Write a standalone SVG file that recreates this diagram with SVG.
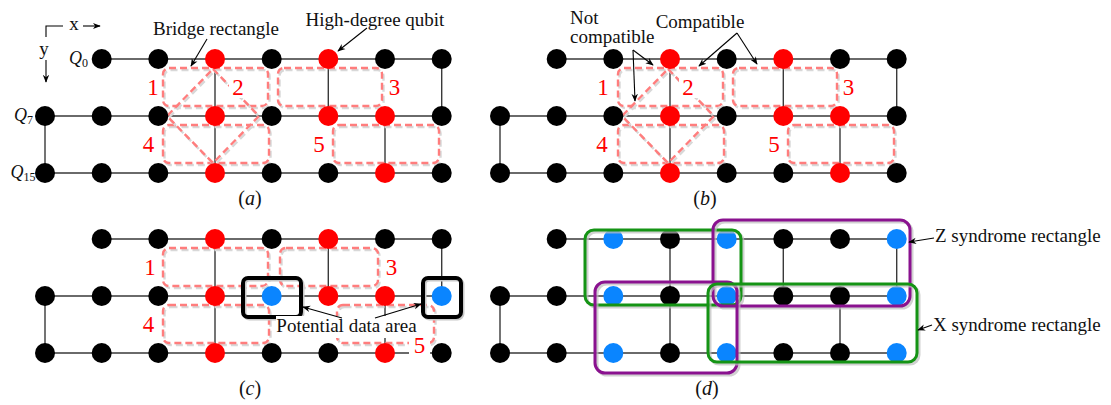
<svg xmlns="http://www.w3.org/2000/svg" width="1111" height="405" viewBox="0 0 1111 405">
<defs>
<style>
.e{stroke:#3a3a3a;stroke-width:1.4;fill:none}
.k{fill:#000}
.r{fill:#ff0000}
.b{fill:#0a85ff}
.dr{fill:none;stroke:#ff7d7d;stroke-width:2.4;stroke-dasharray:7 4;stroke-linejoin:round}
.ds{fill:none;stroke:#d8d8d8;stroke-width:2.4;stroke-dasharray:7 4;stroke-linejoin:round}
.bx{fill:none;stroke:#000;stroke-width:4}
.bxs{fill:none;stroke:#c8c8c8;stroke-width:4}
.gr{fill:none;stroke:#159415;stroke-width:3}
.pu{fill:none;stroke:#8a128f;stroke-width:3}
.sh{fill:none;stroke:#bdbdbd;stroke-width:3;opacity:.7}
.ar{stroke:#000;stroke-width:1.1;fill:none;marker-end:url(#ah)}
.t{font-family:"Liberation Serif",serif;font-size:19px;fill:#111}
.q{font-family:"Liberation Serif",serif;font-size:18px;font-style:italic;fill:#111;text-anchor:end}
.n{font-family:"Liberation Serif",serif;font-size:23px;fill:#ff0000;text-anchor:middle}
.c{font-family:"Liberation Serif",serif;font-size:20px;fill:#111;text-anchor:middle}
</style>
<marker id="ah" viewBox="0 0 10 10" refX="9" refY="5" markerWidth="8" markerHeight="8" orient="auto" markerUnits="userSpaceOnUse"><path d="M0,1 L10,5 L0,9 L3,5 z" fill="#000"/></marker>
</defs>
<rect width="1111" height="405" fill="#fff"/>

<!-- connectors: lattice edges -->
<g id="connectors">
<g id="edges-a"><path class="e" d="M101.7,59H441.7M45,116H441.7M45,173H441.7M45,116V173M215,59V173M328.3,59V116M385,116V173M441.7,59V116"/></g>
<g id="edges-b" transform="translate(455,0)"><path class="e" d="M101.7,59H441.7M45,116H441.7M45,173H441.7M45,116V173M215,59V173M328.3,59V116M385,116V173M441.7,59V116"/></g>
<g id="edges-c" transform="translate(0,180)"><path class="e" d="M101.7,59H441.7M45,116H441.7M45,173H441.7M45,116V173M215,59V173M328.3,59V116M385,116V173M441.7,59V116"/></g>
<g id="edges-d" transform="translate(455,180)"><path class="e" d="M101.7,59H441.7M45,116H441.7M45,173H441.7M45,116V173M215,59V173M328.3,59V116M385,116V173M441.7,59V116"/></g>
</g>

<!-- Panel (a) -->
<g id="panel-a">
<g id="a-rects">
<rect class="ds" x="164.5" y="70" width="105" height="38" rx="6"/>
<rect class="dr" x="163" y="68" width="105" height="38" rx="6"/>
<rect class="ds" x="164.5" y="127" width="106" height="38" rx="6"/>
<rect class="dr" x="163" y="125" width="106" height="38" rx="6"/>
<rect class="ds" x="279.5" y="70" width="104" height="38" rx="6"/>
<rect class="dr" x="278" y="68" width="104" height="38" rx="6"/>
<rect class="ds" x="334.5" y="127" width="106" height="38" rx="6"/>
<rect class="dr" x="333" y="125" width="106" height="38" rx="6"/>
<path class="ds" d="M214.5,71 L260.5,118 L214.5,165 L168.5,118 Z"/>
<path class="dr" d="M213,69 L259,116 L213,163 L167,116 Z"/>
</g>
<g id="a-r0c1"><circle class="k" cx="101.7" cy="59" r="10"/></g>
<g id="a-r0c2"><circle class="k" cx="158.3" cy="59" r="10"/></g>
<g id="a-r0c3"><circle class="r" cx="215" cy="59" r="10"/></g>
<g id="a-r0c4"><circle class="k" cx="271.7" cy="59" r="10"/></g>
<g id="a-r0c5"><circle class="r" cx="328.3" cy="59" r="10"/></g>
<g id="a-r0c6"><circle class="k" cx="385" cy="59" r="10"/></g>
<g id="a-r0c7"><circle class="k" cx="441.7" cy="59" r="10"/></g>
<g id="a-r1c0"><circle class="k" cx="45" cy="116" r="10"/></g>
<g id="a-r1c1"><circle class="k" cx="101.7" cy="116" r="10"/></g>
<g id="a-r1c2"><circle class="k" cx="158.3" cy="116" r="10"/></g>
<g id="a-r1c3"><circle class="r" cx="215" cy="116" r="10"/></g>
<g id="a-r1c4"><circle class="k" cx="271.7" cy="116" r="10"/></g>
<g id="a-r1c5"><circle class="r" cx="328.3" cy="116" r="10"/></g>
<g id="a-r1c6"><circle class="r" cx="385" cy="116" r="10"/></g>
<g id="a-r1c7"><circle class="k" cx="441.7" cy="116" r="10"/></g>
<g id="a-r2c0"><circle class="k" cx="45" cy="173" r="10"/></g>
<g id="a-r2c1"><circle class="k" cx="101.7" cy="173" r="10"/></g>
<g id="a-r2c2"><circle class="k" cx="158.3" cy="173" r="10"/></g>
<g id="a-r2c3"><circle class="r" cx="215" cy="173" r="10"/></g>
<g id="a-r2c4"><circle class="k" cx="271.7" cy="173" r="10"/></g>
<g id="a-r2c5"><circle class="k" cx="328.3" cy="173" r="10"/></g>
<g id="a-r2c6"><circle class="r" cx="385" cy="173" r="10"/></g>
<g id="a-r2c7"><circle class="k" cx="441.7" cy="173" r="10"/></g>
<g id="a-labels">
<text class="n" x="153" y="95">1</text>
<rect x="229" y="76" width="19" height="22" fill="#fff"/>
<text class="n" x="238" y="95">2</text>
<text class="n" x="394.5" y="95">3</text>
<text class="n" x="148.5" y="152">4</text>
<text class="n" x="319" y="152">5</text>
<text class="q" x="88" y="64">Q<tspan font-size="12" font-style="normal" dy="3">0</tspan></text>
<text class="q" x="33" y="121">Q<tspan font-size="12" font-style="normal" dy="3">7</tspan></text>
<text class="q" x="35.5" y="178">Q<tspan font-size="12" font-style="normal" dy="3">15</tspan></text>
<text class="t" x="74" y="30" text-anchor="middle">x</text>
<text class="t" x="44" y="55" text-anchor="middle">y</text>
<path d="M63,26H46V37" stroke="#000" stroke-width="1.1" fill="none"/>
<text class="t" x="216" y="35" text-anchor="middle">Bridge rectangle</text>
<text class="t" x="375" y="26" text-anchor="middle">High-degree qubit</text>
<text class="c" x="250" y="205">(<tspan font-style="italic">a</tspan>)</text>
</g>
</g>

<!-- Panel (b) -->
<g id="panel-b" transform="translate(455,0)">
<g id="b-rects">
<rect class="ds" x="164.5" y="70" width="105" height="38" rx="6"/>
<rect class="dr" x="163" y="68" width="105" height="38" rx="6"/>
<rect class="ds" x="164.5" y="127" width="106" height="38" rx="6"/>
<rect class="dr" x="163" y="125" width="106" height="38" rx="6"/>
<rect class="ds" x="279.5" y="70" width="104" height="38" rx="6"/>
<rect class="dr" x="278" y="68" width="104" height="38" rx="6"/>
<rect class="ds" x="334.5" y="127" width="106" height="38" rx="6"/>
<rect class="dr" x="333" y="125" width="106" height="38" rx="6"/>
<path class="ds" d="M214.5,71 L260.5,118 L214.5,165 L168.5,118 Z"/>
<path class="dr" d="M213,69 L259,116 L213,163 L167,116 Z"/>
</g>
<g id="b-r0c1"><circle class="k" cx="101.7" cy="59" r="10"/></g>
<g id="b-r0c2"><circle class="k" cx="158.3" cy="59" r="10"/></g>
<g id="b-r0c3"><circle class="r" cx="215" cy="59" r="10"/></g>
<g id="b-r0c4"><circle class="k" cx="271.7" cy="59" r="10"/></g>
<g id="b-r0c5"><circle class="r" cx="328.3" cy="59" r="10"/></g>
<g id="b-r0c6"><circle class="k" cx="385" cy="59" r="10"/></g>
<g id="b-r0c7"><circle class="k" cx="441.7" cy="59" r="10"/></g>
<g id="b-r1c0"><circle class="k" cx="45" cy="116" r="10"/></g>
<g id="b-r1c1"><circle class="k" cx="101.7" cy="116" r="10"/></g>
<g id="b-r1c2"><circle class="k" cx="158.3" cy="116" r="10"/></g>
<g id="b-r1c3"><circle class="r" cx="215" cy="116" r="10"/></g>
<g id="b-r1c4"><circle class="k" cx="271.7" cy="116" r="10"/></g>
<g id="b-r1c5"><circle class="r" cx="328.3" cy="116" r="10"/></g>
<g id="b-r1c6"><circle class="r" cx="385" cy="116" r="10"/></g>
<g id="b-r1c7"><circle class="k" cx="441.7" cy="116" r="10"/></g>
<g id="b-r2c0"><circle class="k" cx="45" cy="173" r="10"/></g>
<g id="b-r2c1"><circle class="k" cx="101.7" cy="173" r="10"/></g>
<g id="b-r2c2"><circle class="k" cx="158.3" cy="173" r="10"/></g>
<g id="b-r2c3"><circle class="r" cx="215" cy="173" r="10"/></g>
<g id="b-r2c4"><circle class="k" cx="271.7" cy="173" r="10"/></g>
<g id="b-r2c5"><circle class="k" cx="328.3" cy="173" r="10"/></g>
<g id="b-r2c6"><circle class="r" cx="385" cy="173" r="10"/></g>
<g id="b-r2c7"><circle class="k" cx="441.7" cy="173" r="10"/></g>
<g id="b-labels">
<text class="n" x="148" y="95">1</text>
<rect x="224" y="76" width="19" height="22" fill="#fff"/>
<text class="n" x="233" y="95">2</text>
<text class="n" x="393.5" y="95">3</text>
<text class="n" x="147" y="152">4</text>
<text class="n" x="319" y="152">5</text>
<text class="t" x="115" y="24">Not</text>
<text class="t" x="115" y="43">compatible</text>
<text class="t" x="245" y="28" text-anchor="middle">Compatible</text>
<text class="c" x="250" y="205">(<tspan font-style="italic">b</tspan>)</text>
</g>
</g>

<!-- Panel (c) -->
<g id="panel-c" transform="translate(0,180)">
<g id="c-rects">
<rect class="ds" x="164.5" y="70" width="105" height="38" rx="6"/>
<rect class="dr" x="163" y="68" width="105" height="38" rx="6"/>
<rect class="ds" x="164.5" y="127" width="106" height="38" rx="6"/>
<rect class="dr" x="163" y="125" width="106" height="38" rx="6"/>
<rect class="ds" x="281.5" y="70" width="98" height="38" rx="6"/>
<rect class="dr" x="280" y="68" width="98" height="38" rx="6"/>
<rect class="ds" x="338.5" y="127" width="97" height="38" rx="6"/>
<rect class="dr" x="337" y="125" width="97" height="38" rx="6"/>
</g>
<g id="c-r0c1"><circle class="k" cx="101.7" cy="59" r="10"/></g>
<g id="c-r0c2"><circle class="k" cx="158.3" cy="59" r="10"/></g>
<g id="c-r0c3"><circle class="r" cx="215" cy="59" r="10"/></g>
<g id="c-r0c4"><circle class="k" cx="271.7" cy="59" r="10"/></g>
<g id="c-r0c5"><circle class="r" cx="328.3" cy="59" r="10"/></g>
<g id="c-r0c6"><circle class="k" cx="385" cy="59" r="10"/></g>
<g id="c-r0c7"><circle class="k" cx="441.7" cy="59" r="10"/></g>
<g id="c-r1c0"><circle class="k" cx="45" cy="116" r="10"/></g>
<g id="c-r1c1"><circle class="k" cx="101.7" cy="116" r="10"/></g>
<g id="c-r1c2"><circle class="k" cx="158.3" cy="116" r="10"/></g>
<g id="c-r1c3"><circle class="r" cx="215" cy="116" r="10"/></g>
<g id="c-r1c4"><circle class="b" cx="271.7" cy="116" r="10"/></g>
<g id="c-r1c5"><circle class="r" cx="328.3" cy="116" r="10"/></g>
<g id="c-r1c6"><circle class="r" cx="385" cy="116" r="10"/></g>
<g id="c-r1c7"><circle class="b" cx="441.7" cy="116" r="10"/></g>
<g id="c-r2c0"><circle class="k" cx="45" cy="173" r="10"/></g>
<g id="c-r2c1"><circle class="k" cx="101.7" cy="173" r="10"/></g>
<g id="c-r2c2"><circle class="k" cx="158.3" cy="173" r="10"/></g>
<g id="c-r2c3"><circle class="r" cx="215" cy="173" r="10"/></g>
<g id="c-r2c4"><circle class="k" cx="271.7" cy="173" r="10"/></g>
<g id="c-r2c5"><circle class="k" cx="328.3" cy="173" r="10"/></g>
<g id="c-r2c6"><circle class="r" cx="385" cy="173" r="10"/></g>
<g id="c-r2c7"><circle class="k" cx="441.7" cy="173" r="10"/></g>
<g id="c-box1"><rect class="bxs" x="244.5" y="99.5" width="58" height="39" rx="5"/><rect class="bx" x="243" y="98" width="58" height="39" rx="5"/></g>
<g id="c-box2"><rect class="bxs" x="424.5" y="99.5" width="38" height="39" rx="5"/><rect class="bx" x="423" y="98" width="38" height="39" rx="5"/></g>
<g id="c-labels">
<text class="n" x="150" y="95">1</text>
<text class="n" x="391.5" y="95">3</text>
<text class="n" x="148.5" y="152">4</text>
<rect x="409" y="156" width="21" height="22" fill="#fff"/>
<text class="n" x="419.5" y="173">5</text>
<rect x="276" y="136" width="142" height="22" fill="#fff"/>
<text class="t" x="346.5" y="152" text-anchor="middle">Potential data area</text>
<text class="c" x="250" y="215">(<tspan font-style="italic">c</tspan>)</text>
</g>
</g>

<!-- Panel (d) -->
<g id="panel-d" transform="translate(455,180)">
<g id="d-r0c1"><circle class="k" cx="101.7" cy="59" r="10"/></g>
<g id="d-r0c2"><circle class="b" cx="158.3" cy="59" r="10"/></g>
<g id="d-r0c3"><circle class="k" cx="215" cy="59" r="10"/></g>
<g id="d-r0c4"><circle class="b" cx="271.7" cy="59" r="10"/></g>
<g id="d-r0c5"><circle class="k" cx="328.3" cy="59" r="10"/></g>
<g id="d-r0c6"><circle class="k" cx="385" cy="59" r="10"/></g>
<g id="d-r0c7"><circle class="b" cx="441.7" cy="59" r="10"/></g>
<g id="d-r1c0"><circle class="k" cx="45" cy="116" r="10"/></g>
<g id="d-r1c1"><circle class="k" cx="101.7" cy="116" r="10"/></g>
<g id="d-r1c2"><circle class="b" cx="158.3" cy="116" r="10"/></g>
<g id="d-r1c3"><circle class="k" cx="215" cy="116" r="10"/></g>
<g id="d-r1c4"><circle class="b" cx="271.7" cy="116" r="10"/></g>
<g id="d-r1c5"><circle class="k" cx="328.3" cy="116" r="10"/></g>
<g id="d-r1c6"><circle class="k" cx="385" cy="116" r="10"/></g>
<g id="d-r1c7"><circle class="b" cx="441.7" cy="116" r="10"/></g>
<g id="d-r2c0"><circle class="k" cx="45" cy="173" r="10"/></g>
<g id="d-r2c1"><circle class="k" cx="101.7" cy="173" r="10"/></g>
<g id="d-r2c2"><circle class="b" cx="158.3" cy="173" r="10"/></g>
<g id="d-r2c3"><circle class="k" cx="215" cy="173" r="10"/></g>
<g id="d-r2c4"><circle class="b" cx="271.7" cy="173" r="10"/></g>
<g id="d-r2c5"><circle class="k" cx="328.3" cy="173" r="10"/></g>
<g id="d-r2c6"><circle class="k" cx="385" cy="173" r="10"/></g>
<g id="d-r2c7"><circle class="b" cx="441.7" cy="173" r="10"/></g>
<g id="d-x-top"><rect class="sh" x="132" y="52" width="156" height="75" rx="9"/><rect class="gr" x="130" y="50" width="156" height="75" rx="9"/></g>
<g id="d-z-top"><rect class="sh" x="260" y="42" width="197" height="86" rx="10"/><rect class="pu" x="258" y="40" width="197" height="86" rx="10"/></g>
<g id="d-z-bottom"><rect class="sh" x="142" y="104" width="142" height="91" rx="10"/><rect class="pu" x="140" y="102" width="142" height="91" rx="10"/></g>
<g id="d-x-bottom"><rect class="sh" x="255" y="106" width="209" height="78" rx="9"/><rect class="gr" x="253" y="104" width="209" height="78" rx="9"/></g>
<g id="d-labels">
<text class="t" x="480" y="62">Z syndrome rectangle</text>
<text class="t" x="478" y="151">X syndrome rectangle</text>
<text class="c" x="252" y="215">(<tspan font-style="italic">d</tspan>)</text>
</g>
</g>

<!-- annotation arrows -->
<g id="annotation-arrows">
<path class="ar" d="M83,26H100"/>
<path class="ar" d="M46,60V82"/>
<path class="ar" d="M207,39L191,66"/>
<path class="ar" d="M367,28L338,51"/>
<path class="ar" d="M633,50L653,65"/>
<path class="ar" d="M633,50L635,101"/>
<path class="ar" d="M737,33L699,66"/>
<path class="ar" d="M737,33L757,64"/>
<path class="ar" d="M342,318L303,307"/>
<path class="ar" d="M375,318L421,304"/>
<path class="ar" d="M934,238L909,242"/>
<path class="ar" d="M932,325L918,330"/>
</g>
</svg>
